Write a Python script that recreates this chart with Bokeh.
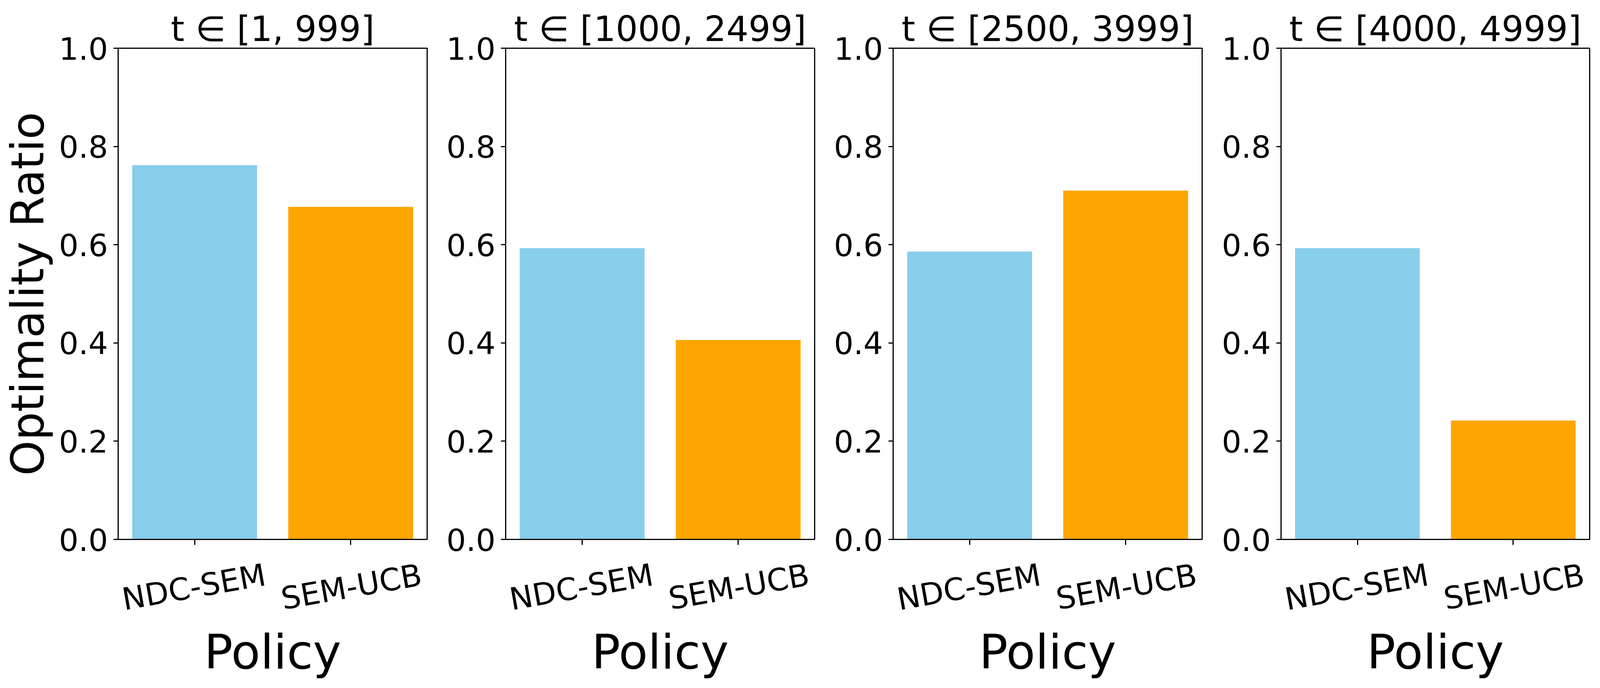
import math
from bokeh.plotting import figure
from bokeh.models import (Range1d, FixedTicker, PrintfTickFormatter, LinearAxis,
                          CustomJSTickFormatter, ColumnDataSource)
from bokeh.layouts import row
from bokeh.embed import file_html
from bokeh.resources import INLINE

# ---- data ----
policies = ["NDC-SEM", "SEM-UCB"]
bar_colors = ["#87CEEB", "#FFA500"]
panel_titles = ["t ∈ [1, 999]", "t ∈ [1000, 2499]", "t ∈ [2500, 3999]", "t ∈ [4000, 4999]"]
ndc_sem = [0.762, 0.593, 0.586, 0.593]
sem_ucb = [0.677, 0.406, 0.710, 0.242]
y_ticks = [0.0, 0.2, 0.4, 0.6, 0.8, 1.0]
y_label = "Optimality Ratio"
x_label = "Policy"

# ---- layout (horizontal sizes scaled so the row fits the captured width) ----
FONT = "DejaVu Sans"
FRAME_H = 1258
frame_ws = [791, 791, 791, 790]
left_borders = [295, 181, 181, 182]
TOP_B = 123
BOTTOM_B = 365
RIGHT_B = 20
TICK_FS = 79
TITLE_FS = 89
XLAB_FS = 122
YLAB_FS = 115
ROT = 10  # degrees
X0, X1 = -0.49, 1.49

figs = []
for i, title in enumerate(panel_titles):
    p = figure(
        frame_width=frame_ws[i], frame_height=FRAME_H,
        x_range=Range1d(X0, X1), y_range=Range1d(0, 1),
        output_backend="svg", toolbar_location=None,
        min_border_left=left_borders[i], min_border_right=RIGHT_B,
        min_border_top=TOP_B, min_border_bottom=BOTTOM_B,
        background_fill_color="white", border_fill_color="white",
    )
    src = ColumnDataSource(dict(x=list(range(len(policies))),
                                top=[ndc_sem[i], sem_ucb[i]],
                                color=bar_colors, name=policies))
    p.vbar(x="x", top="top", bottom=0, width=0.8, fill_color="color",
           line_color=None, source=src)

    p.xgrid.visible = False
    p.ygrid.visible = False
    p.outline_line_color = "black"
    p.outline_line_width = 3
    p.outline_line_alpha = 1.0

    # title
    p.title.text = title
    p.title.align = "center"
    p.title.text_font = FONT
    p.title.text_font_size = f"{TITLE_FS}px"
    p.title.text_font_style = "normal"
    p.title.text_color = "black"
    p.title.standoff = -4

    # y axis
    ya = p.yaxis[0]
    ya.ticker = FixedTicker(ticks=y_ticks)
    ya.formatter = PrintfTickFormatter(format="%.1f")
    ya.major_label_text_font = FONT
    ya.major_label_text_font_size = f"{TICK_FS}px"
    ya.major_label_text_color = "black"
    ya.major_label_standoff = 14
    ya.major_tick_out = 12
    ya.major_tick_in = 0
    ya.major_tick_line_width = 3
    ya.minor_tick_out = 0
    ya.minor_tick_in = 0
    ya.axis_line_width = 3
    if i == 0:
        ya.axis_label = y_label
        ya.axis_label_text_font = FONT
        ya.axis_label_text_font_size = f"{YLAB_FS}px"
        ya.axis_label_text_font_style = "normal"
        ya.axis_label_text_color = "black"
        ya.axis_label_standoff = 10

    # x axis: tick marks at the bars (its own labels are not drawn)
    xa = p.xaxis[0]
    xa.ticker = FixedTicker(ticks=list(range(len(policies))))
    xa.formatter = CustomJSTickFormatter(args=dict(names=policies), code="return names[index];")
    xa.major_label_text_font_size = "1px"
    xa.major_label_text_color = None
    xa.major_label_standoff = 0
    xa.major_tick_out = 14
    xa.major_tick_in = 0
    xa.major_tick_line_width = 3
    xa.minor_tick_out = 0
    xa.minor_tick_in = 0
    xa.axis_line_width = 3

    # rotated, centred category labels (right-anchored labels shifted by half their width)
    px_per_unit = frame_ws[i] / (X1 - X0)
    half_w = 0.5 * 4.66 * TICK_FS * math.cos(math.radians(ROT))
    dx = half_w / px_per_unit
    la = LinearAxis(
        ticker=FixedTicker(ticks=[j + dx for j in range(len(policies))]),
        formatter=CustomJSTickFormatter(args=dict(names=policies), code="return names[index];"),
        major_label_orientation=math.radians(ROT),
        major_label_text_font=FONT,
        major_label_text_font_size=f"{TICK_FS}px",
        major_label_text_color="black",
        major_label_standoff=76,
        major_tick_out=0, major_tick_in=0,
        minor_tick_out=0, minor_tick_in=0,
        axis_line_color=None,
        axis_label=x_label,
        axis_label_text_font=FONT,
        axis_label_text_font_size=f"{XLAB_FS}px",
        axis_label_text_font_style="normal",
        axis_label_text_color="black",
        axis_label_standoff=-31,
    )
    p.add_layout(la, "below")
    figs.append(p)

layout = row(*figs)
open("out.html", "w").write(file_html(layout, INLINE))
